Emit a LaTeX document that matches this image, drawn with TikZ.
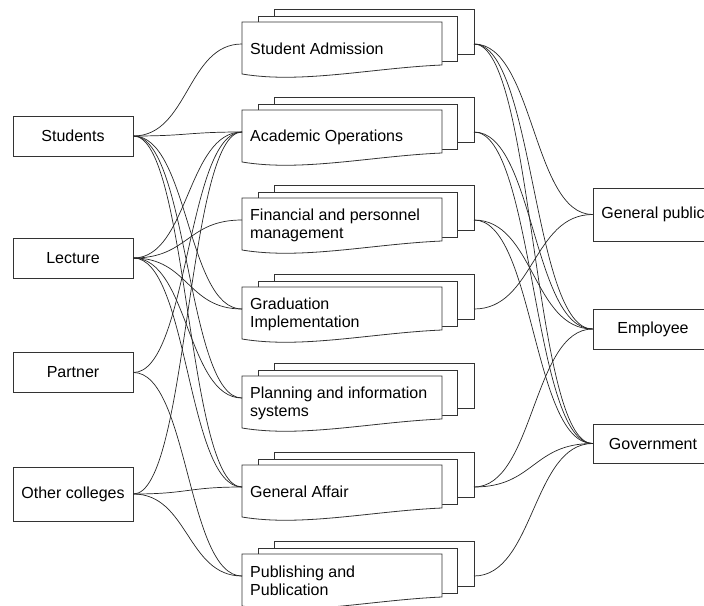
\documentclass[tikz,border=0pt]{standalone}
\usepackage{fontspec}
\setmainfont{Liberation Sans}
\begin{document}
\begin{tikzpicture}[x=1pt,y=-1pt,
  font=\fontsize{16}{18}\selectfont,
  box/.style={draw=black!80, line width=0.8pt, fill=white, minimum width=120pt, inner sep=0pt},
  doc/.style={draw=black!80, line width=0.8pt, fill=white},
  doctext/.style={anchor=west, align=left, inner sep=0pt},
  conn/.style={draw=black!85, line width=0.7pt},
  lc/.style={conn, out=0, in=180, distance=55pt},
  rc/.style={conn, out=0, in=180, distance=60pt}]
\useasboundingbox (0,0) rectangle (704,605);
\clip (0,0) rectangle (704,605);
\newcommand\docstack[3]{%
  \draw[doc] (274,#2-13) rectangle (474,#2+32);
  \draw[doc] (258,#2-6) rectangle (457,#2+39);
  \draw[doc] (242,#2) -- (442,#2) -- (442,#2+43) .. controls (372,#2+46) and (302,#2+62) .. (242,#2+52) -- cycle;
  \node[doctext] (#1) at (250,#2+27) {#3};
  \coordinate (#1-l) at (242,#2+22);
  \coordinate (#1-r) at (474,#2+22);
}
% left nodes
\node[box, minimum height=40pt] (s) at (73,136) {Students};
\node[box, minimum height=40pt] (l) at (73,258) {Lecture};
\node[box, minimum height=40pt] (p) at (73,372.5) {Partner};
\node[box, minimum height=54pt] (o) at (73,494) {Other colleges};
% right nodes
\node[box, minimum height=53pt] (gp) at (653,214.5) {General public};
\node[box, minimum height=40pt] (emp) at (653,329) {Employee};
\node[box, minimum height=39pt] (gov) at (653,443.5) {Government};
% middle document stacks
\docstack{sa}{22}{Student Admission}
\docstack{ao}{110}{Academic Operations}
\docstack{fin}{198}{Financial and personnel\\management}
\docstack{grad}{287}{Graduation\\Implementation}
\docstack{plan}{376}{Planning and information\\systems}
\docstack{ga}{465}{General Affair}
\docstack{pub}{554}{Publishing and\\Publication}
% left connectors
\draw[lc] (s.east) to (sa-l);
\draw[lc] (s.east) to (ao-l);
\draw[lc] (s.east) to (grad-l);
\draw[lc] (s.east) to (plan-l);
\draw[lc] (s.east) to (ga-l);
\draw[lc] (l.east) to (ao-l);
\draw[lc] (l.east) to (fin-l);
\draw[lc] (l.east) to (grad-l);
\draw[lc] (l.east) to (plan-l);
\draw[lc] (l.east) to (ga-l);
\draw[lc] (p.east) to (ao-l);
\draw[lc] (p.east) to (pub-l);
\draw[lc] (o.east) to (ao-l);
\draw[lc] (o.east) to (ga-l);
\draw[lc] (o.east) to (pub-l);
% right connectors
\draw[rc] (sa-r) to (gp.west);
\draw[rc] (sa-r) to (emp.west);
\draw[rc] (sa-r) to (gov.west);
\draw[rc] (ao-r) to (emp.west);
\draw[rc] (ao-r) to (gov.west);
\draw[rc] (fin-r) to (emp.west);
\draw[rc] (fin-r) to (gov.west);
\draw[rc] (grad-r) to (gp.west);
\draw[rc] (ga-r) to (emp.west);
\draw[rc] (ga-r) to (gov.west);
\draw[rc] (pub-r) to (gov.west);
\end{tikzpicture}
\end{document}
